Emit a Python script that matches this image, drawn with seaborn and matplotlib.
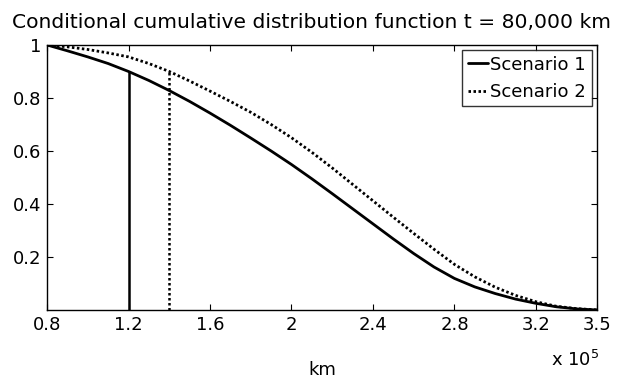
import numpy as np
import pandas as pd
import matplotlib
matplotlib.use("Agg")
import matplotlib.pyplot as plt
import seaborn as sns

# ---- data (x in km) ----
distance_km = [80000, 90000, 100000, 110000, 120000, 130000, 140000, 150000,
               160000, 170000, 180000, 190000, 200000, 210000, 220000, 230000,
               240000, 250000, 260000, 270000, 280000, 290000, 300000, 310000,
               320000, 330000, 340000, 350000]
scenario1 = [1.000, 0.978, 0.955, 0.930, 0.900, 0.866, 0.828, 0.787,
             0.743, 0.697, 0.649, 0.600, 0.549, 0.495, 0.439, 0.382,
             0.325, 0.268, 0.213, 0.162, 0.119, 0.087, 0.062, 0.041,
             0.025, 0.012, 0.004, 0.000]
scenario2 = [1.000, 0.993, 0.983, 0.970, 0.955, 0.930, 0.900, 0.864,
             0.826, 0.787, 0.746, 0.700, 0.650, 0.595, 0.536, 0.474,
             0.412, 0.350, 0.289, 0.229, 0.172, 0.125, 0.086, 0.055,
             0.031, 0.014, 0.005, 0.000]
series_names = ["Scenario 1", "Scenario 2"]
threshold_km = [120000, 140000]
threshold_level = 0.9
x_ticks = [80000, 120000, 160000, 200000, 240000, 280000, 320000, 350000]
x_tick_labels = ["0.8", "1.2", "1.6", "2", "2.4", "2.8", "3.2", "3.5"]
y_ticks = [0.2, 0.4, 0.6, 0.8, 1.0]
y_tick_labels = ["0.2", "0.4", "0.6", "0.8", "1"]
title = "Conditional cumulative distribution function t = 80,000 km"

df = pd.DataFrame({
    "km": distance_km * 2,
    "F": scenario1 + scenario2,
    "Scenario": [series_names[0]] * len(distance_km) + [series_names[1]] * len(distance_km),
})

sns.set_theme(style="white")
plt.rcParams["font.family"] = ["DejaVu Sans"]
plt.rcParams["text.color"] = "black"

fig = plt.figure(figsize=(6.19, 3.78), dpi=100)
ax = fig.add_axes([0.076, 0.180, 0.8885, 0.701])

dot = (0.9, 0.9)
sns.lineplot(data=df, x="km", y="F", hue="Scenario", style="Scenario",
             palette=["black", "black"], dashes={series_names[0]: "", series_names[1]: dot},
             linewidth=2.0, ax=ax, legend=True)

ax.vlines(threshold_km[0], 0, threshold_level, colors="black", linewidth=1.8)
ax.vlines(threshold_km[1], 0, threshold_level, colors="black", linewidth=1.8,
          linestyles=[(0, (1.0, 1.0))])

ax.set_xlim(80000, 350000)
ax.set_ylim(0, 1)
ax.set_xticks(x_ticks)
ax.set_xticklabels(x_tick_labels, fontsize=13)
ax.set_yticks(y_ticks)
ax.set_yticklabels(y_tick_labels, fontsize=13)
ax.tick_params(direction="in", length=4, width=0.8, top=True, right=True,
               bottom=True, left=True, color="black", pad=4, labelcolor="black")
for s in ax.spines.values():
    s.set_color("black")
    s.set_linewidth(1.0)
    s.set_visible(True)

ax.set_xlabel("km", fontsize=13, color="black", labelpad=20)
ax.set_ylabel("")
ax.set_title(title, fontsize=14.6, color="black", pad=12, x=0.48)
ax.text(1.005, -0.19, r"x 10$^5$", transform=ax.transAxes, fontsize=13,
        ha="right", va="center", color="black")

leg = ax.legend(loc="upper right", fontsize=13, frameon=True, fancybox=False,
                edgecolor="black", handlelength=1.1, handletextpad=0.15,
                borderpad=0.3, labelspacing=0.5, borderaxespad=0.3)
leg.get_frame().set_linewidth(1.0)
for t in leg.get_texts():
    t.set_color("black")

fig.savefig("out.png", dpi=100)
